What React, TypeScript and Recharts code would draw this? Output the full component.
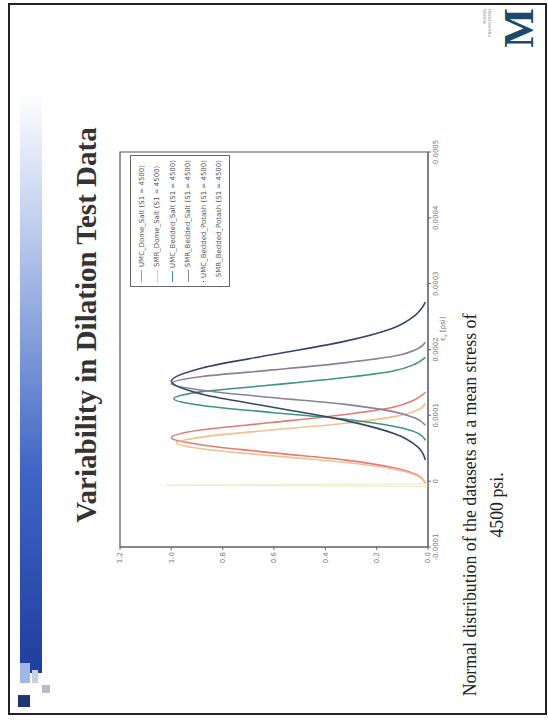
import React from "react";
import { LineChart, Line, XAxis, YAxis, ReferenceArea } from "recharts";

// legend order, read top to bottom in the legend box
const SERIES_NAMES = [
  "UMC_Dome_Salt (S1 = 4500)",
  "SMR_Dome_Salt (S1 = 4500)",
  "UMC_Bedded_Salt (S1 = 4500)",
  "SMR_Bedded_Salt (S1 = 4500)",
  "UMC_Bedded_Potash (S1 = 4500)",
  "SMR_Bedded_Potash (S1 = 4500)",
];
const SERIES_COLORS = ["#e27a76", "#f3c08e", "#3f9480", "#8c7f9c", "#35456a", "#f1ebcc"];

// strain values (x) and normalised density (y)
const UMC_DOME_X = [-0.000003, 0.000009, 0.00002, 0.000032, 0.000043, 0.000055, 0.000066, 0.000078, 0.000089, 0.000101, 0.000112, 0.000124, 0.000135];
const UMC_DOME_Y = [0.01, 0.04, 0.13, 0.32, 0.6, 0.88, 1.0, 0.88, 0.61, 0.33, 0.14, 0.05, 0.01];

const SMR_DOME_X = [-0.000002, 0.000008, 0.000018, 0.000028, 0.000038, 0.000048, 0.000058, 0.000068, 0.000078, 0.000088, 0.000098, 0.000108, 0.000118];
const SMR_DOME_Y = [0.01, 0.04, 0.13, 0.31, 0.59, 0.86, 0.98, 0.86, 0.6, 0.32, 0.13, 0.04, 0.01];

const UMC_BEDDED_X = [0.000062, 0.000073, 0.000083, 0.000094, 0.000104, 0.000115, 0.000125, 0.000136, 0.000146, 0.000157, 0.000167, 0.000178, 0.000188];
const UMC_BEDDED_Y = [0.01, 0.04, 0.13, 0.32, 0.6, 0.88, 0.99, 0.88, 0.61, 0.33, 0.14, 0.05, 0.01];

const SMR_BEDDED_X = [0.000085, 0.000096, 0.000106, 0.000117, 0.000127, 0.000138, 0.000148, 0.000159, 0.000169, 0.00018, 0.00019, 0.000201, 0.000211];
const SMR_BEDDED_Y = [0.01, 0.05, 0.14, 0.33, 0.61, 0.88, 1.0, 0.88, 0.6, 0.32, 0.13, 0.04, 0.01];

const UMC_POTASH_X = [0.000032, 0.000052, 0.000072, 0.000092, 0.000112, 0.000132, 0.000152, 0.000172, 0.000192, 0.000212, 0.000232, 0.000252, 0.000272];
const UMC_POTASH_Y = [0.01, 0.04, 0.13, 0.32, 0.6, 0.88, 1.0, 0.88, 0.61, 0.33, 0.14, 0.05, 0.01];

const SMR_POTASH_X = [-0.000008, -0.000006, -0.000004];
const SMR_POTASH_Y = [0, 1.02, 0];

const X_TICKS = [-0.0001, 0, 0.0001, 0.0002, 0.0003, 0.0004, 0.0005];
const Y_TICKS = [0, 0.2, 0.4, 0.6, 0.8, 1.0, 1.2];

const toPoints = (xs: number[], ys: number[]) => xs.map((x, i) => ({ x, y: ys[i] }));

const SERIES = [
  toPoints(UMC_DOME_X, UMC_DOME_Y),
  toPoints(SMR_DOME_X, SMR_DOME_Y),
  toPoints(UMC_BEDDED_X, UMC_BEDDED_Y),
  toPoints(SMR_BEDDED_X, SMR_BEDDED_Y),
  toPoints(UMC_POTASH_X, UMC_POTASH_Y),
  toPoints(SMR_POTASH_X, SMR_POTASH_Y),
];

const tickStyle = { fill: "#777", fontSize: 7, fontFamily: "DejaVu Sans" };

function LegendBox() {
  return (
    <div
      style={{
        position: "absolute",
        left: 434,
        top: 130,
        width: 122,
        height: 92,
        border: "1px solid #666",
        background: "#fff",
        padding: "3px 4px",
      }}
    >
      {SERIES_NAMES.map((name, i) => (
        <div key={name} style={{ display: "flex", alignItems: "center", height: 15.5 }}>
          <span style={{ display: "inline-block", width: 12, height: 0, borderTop: `1.5px solid ${SERIES_COLORS[i]}`, marginRight: 3 }} />
          <span style={{ fontSize: 7, color: "#555", fontFamily: "DejaVu Sans", whiteSpace: "nowrap" }}>{name}</span>
        </div>
      ))}
    </div>
  );
}

function DilationChart() {
  return (
    <LineChart width={500} height={360} margin={{ top: 10, right: 31, left: 10, bottom: 12 }}>
      <XAxis
        dataKey="x"
        type="number"
        domain={[-0.0001, 0.0005]}
        ticks={X_TICKS}
        allowDataOverflow
        tickFormatter={(v: number) => (v === 0 ? "0" : v.toFixed(4))}
        tick={tickStyle}
        tickSize={3}
        stroke="#666"
        height={30}
      />
      <YAxis
        type="number"
        domain={[0, 1.2]}
        ticks={Y_TICKS}
        tickFormatter={(v: number) => v.toFixed(1)}
        tick={tickStyle}
        tickSize={3}
        stroke="#666"
        width={64}
      />
      <ReferenceArea x1={-0.0001} x2={0.0005} y1={0} y2={1.2} fill="none" stroke="#555" strokeWidth={1.2} />
      {SERIES.map((data, i) => (
        <Line
          key={SERIES_NAMES[i]}
          data={data}
          dataKey="y"
          name={SERIES_NAMES[i]}
          type={i === 5 ? "linear" : "monotone"}
          stroke={SERIES_COLORS[i]}
          strokeWidth={i === 5 ? 1.2 : 1.6}
          dot={false}
          isAnimationActive={false}
        />
      ))}
    </LineChart>
  );
}

export default function App() {
  return (
    <div style={{ position: "fixed", left: 0, top: 0, width: 548, height: 721, overflow: "hidden", background: "#fff" }}>
      <div
        style={{
          position: "absolute",
          left: 0,
          top: 0,
          width: 721,
          height: 548,
          transformOrigin: "0 0",
          transform: "translate(0px, 721px) rotate(-90deg)",
          fontFamily: "Liberation Serif",
        }}
      >
        {/* slide frame */}
        <div style={{ position: "absolute", left: 6, top: 8, width: 708, height: 535, border: "2px solid #222" }} />

        {/* title bar decoration */}
        <div
          style={{
            position: "absolute",
            left: 48,
            top: 20,
            width: 580,
            height: 22,
            background: "linear-gradient(to right, #1f3e9e, #3f66c4 35%, #b9c9ec 75%, #ffffff)",
          }}
        />
        <div style={{ position: "absolute", left: 38, top: 20, width: 20, height: 10, background: "#9fb6e6" }} />
        <div style={{ position: "absolute", left: 38, top: 32, width: 13, height: 6, background: "#c9cfdc" }} />
        <div style={{ position: "absolute", left: 28, top: 42, width: 8, height: 8, background: "#b8bcc6" }} />
        <div style={{ position: "absolute", left: 14, top: 18, width: 12, height: 12, background: "#1f3376" }} />

        <div
          style={{
            position: "absolute",
            left: 146,
            top: 70,
            width: 500,
            textAlign: "center",
            fontSize: 29,
            fontWeight: "bold",
            color: "#333",
            whiteSpace: "nowrap",
          }}
        >
          Variability in Dilation Test Data
        </div>

        {/* logo */}
        <div style={{ position: "absolute", left: 676, top: 482, fontSize: 4, color: "#888", fontFamily: "DejaVu Sans", lineHeight: "5px", textAlign: "right", width: 36 }}>
          MINING
          <br />
          ENGINEERING
        </div>
        <div
          style={{
            position: "absolute",
            left: 672,
            top: 496,
            width: 42,
            textAlign: "center",
            fontSize: 42,
            lineHeight: "46px",
            fontWeight: "bold",
            color: "#1d4a66",
          }}
        >
          M
        </div>

        {/* chart */}
        <div style={{ position: "absolute", left: 100, top: 110, width: 500, height: 360 }}>
          <DilationChart />
        </div>
        <LegendBox />
        <div style={{ position: "absolute", left: 380, top: 439, fontSize: 7, color: "#666", fontFamily: "DejaVu Sans" }}>
          ε<sub style={{ fontSize: 5 }}>v</sub> [psi]
        </div>

        <div
          style={{
            position: "absolute",
            left: 6,
            top: 457,
            width: 420,
            textAlign: "center",
            fontSize: 17.8,
            lineHeight: "27px",
            color: "#222",
          }}
        >
          Normal distribution of the datasets at a mean stress of
          <br />
          4500 psi.
        </div>
      </div>
    </div>
  );
}
